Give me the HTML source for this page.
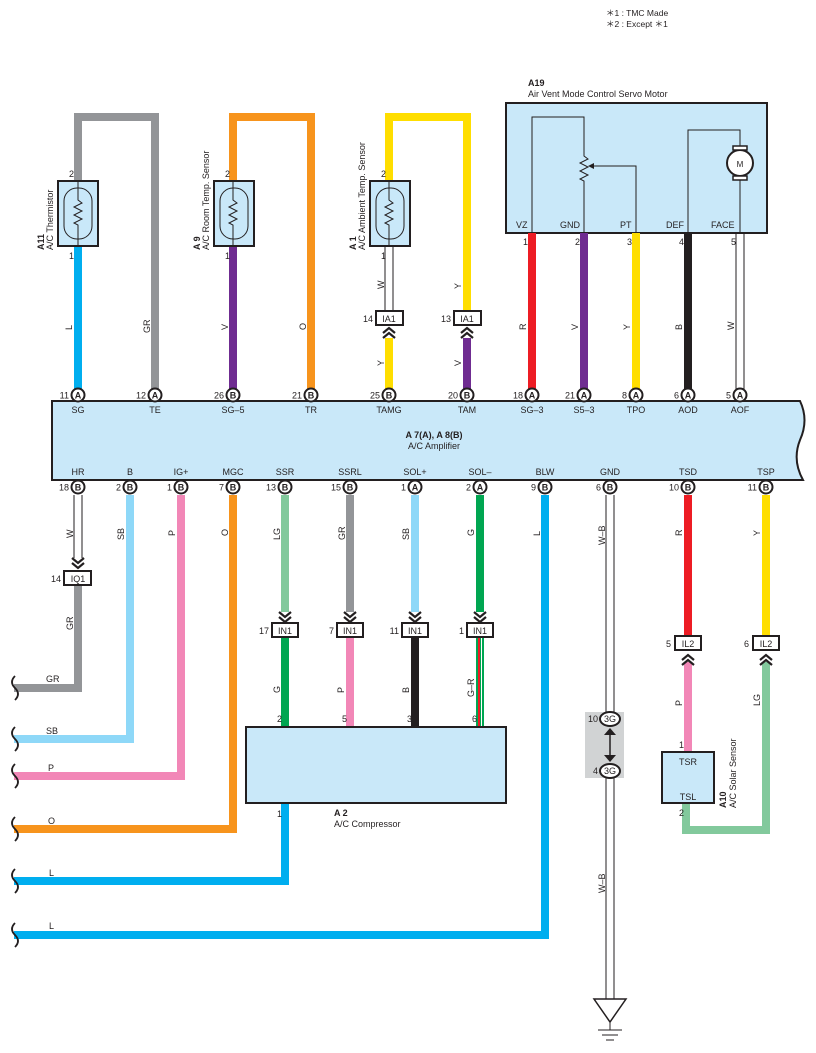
<!DOCTYPE html>
<html><head><meta charset="utf-8"><style>
body{margin:0;background:#fff}
svg{display:block}
text{font-family:"Liberation Sans",sans-serif;font-size:9px;fill:#231f20}
.w{fill:none;stroke-width:8;stroke-linejoin:miter}
.bx{fill:#c9e8f9;stroke:#231f20;stroke-width:2}
.pc{fill:#fff;stroke:#231f20;stroke-width:2}
.pl{font-size:9px;font-weight:bold;text-anchor:middle}
.t{stroke:#231f20;stroke-width:1;fill:none}
.ch{fill:none;stroke:#231f20;stroke-width:2.2}
.c{text-anchor:middle}
.r{text-anchor:end}
</style></head><body>
<svg width="816" height="1053" viewBox="0 0 816 1053" xmlns="http://www.w3.org/2000/svg">
<text x="606" y="16" style="font-size:8.5px">＊1 : TMC Made</text>
<text x="606" y="27" style="font-size:8.5px">＊2 : Except ＊1</text>

<!-- sensor loops -->
<path class="w" stroke="#939598" d="M78 181 V117 H155 V395"/>
<path class="w" stroke="#00aeef" d="M78 246 V395"/>
<path class="w" stroke="#f7941d" d="M233 181 V117 H311 V395"/>
<path class="w" stroke="#6f2c91" d="M233 246 V395"/>
<path class="w" stroke="#ffde00" d="M389 181 V117 H467 V311"/>
<path class="w" stroke="#ffde00" d="M389 338 V395"/>
<path class="w" stroke="#6f2c91" d="M467 338 V395"/>
<path class="t" d="M385 246 V311 M393 246 V311"/>

<!-- sensor boxes -->
<g>
<rect class="bx" x="58" y="181" width="40" height="65"/>
<rect x="64" y="188" width="28" height="51" rx="13" class="t"/>
<path class="t" d="M78 181 V200 l4 3 -8 4 8 4 -8 4 8 4 -8 4 4 2 V246"/>
<rect class="bx" x="214" y="181" width="40" height="65"/>
<rect x="220" y="188" width="28" height="51" rx="13" class="t"/>
<path class="t" d="M233 181 V200 l4 3 -8 4 8 4 -8 4 8 4 -8 4 4 2 V246"/>
<rect class="bx" x="370" y="181" width="40" height="65"/>
<rect x="376" y="188" width="28" height="51" rx="13" class="t"/>
<path class="t" d="M389 181 V200 l4 3 -8 4 8 4 -8 4 8 4 -8 4 4 2 V246"/>
</g>
<text x="74" y="177" class="r">2</text><text x="74" y="259" class="r">1</text>
<text x="230" y="177" class="r">2</text><text x="230" y="259" class="r">1</text>
<text x="386" y="177" class="r">2</text><text x="386" y="259" class="r">1</text>
<text transform="translate(44,250) rotate(-90)" style="font-weight:bold">A11</text>
<text transform="translate(53,250) rotate(-90)">A/C Thermistor</text>
<text transform="translate(200,250) rotate(-90)" style="font-weight:bold">A 9</text>
<text transform="translate(209,250) rotate(-90)">A/C Room Temp.  Sensor</text>
<text transform="translate(356,250) rotate(-90)" style="font-weight:bold">A 1</text>
<text transform="translate(365,250) rotate(-90)">A/C Ambient Temp.  Sensor</text>

<!-- IA1 -->
<rect x="376" y="311" width="27" height="14" fill="#fff" stroke="#231f20" stroke-width="2"/>
<text x="389" y="322" class="c">IA1</text><text x="373" y="322" class="r">14</text>
<rect x="454" y="311" width="27" height="14" fill="#fff" stroke="#231f20" stroke-width="2"/>
<text x="467" y="322" class="c">IA1</text><text x="451" y="322" class="r">13</text>
<path class="ch" d="M383 333 l6 -5 6 5 M383 338 l6 -5 6 5 M461 333 l6 -5 6 5 M461 338 l6 -5 6 5"/>

<!-- wire labels top -->
<g style="font-size:9px">
<text transform="translate(72,330) rotate(-90)">L</text>
<text transform="translate(150,333) rotate(-90)">GR</text>
<text transform="translate(228,330) rotate(-90)">V</text>
<text transform="translate(306,330) rotate(-90)">O</text>
<text transform="translate(384,289) rotate(-90)">W</text>
<text transform="translate(461,289) rotate(-90)">Y</text>
<text transform="translate(384,366) rotate(-90)">Y</text>
<text transform="translate(461,366) rotate(-90)">V</text>
<text transform="translate(526,330) rotate(-90)">R</text>
<text transform="translate(578,330) rotate(-90)">V</text>
<text transform="translate(630,330) rotate(-90)">Y</text>
<text transform="translate(682,330) rotate(-90)">B</text>
<text transform="translate(734,330) rotate(-90)">W</text>
</g>

<!-- A19 -->
<text x="528" y="86" style="font-weight:bold">A19</text>
<text x="528" y="97">Air Vent Mode Control Servo Motor</text>
<rect class="bx" x="506" y="103" width="261" height="130"/>
<path class="t" d="M532 233 V117 H584 V156 l4 3 -8 4 8 4 -8 4 8 4 -8 4 4 2 V233"/>
<path class="t" d="M636 233 V166 H590"/><path d="M588 166 l6 -3 v6z" fill="#231f20"/>
<path class="t" d="M688 233 V130 H740 V233"/>
<circle cx="740" cy="163" r="13" fill="#fff" stroke="#231f20" stroke-width="2"/>
<rect x="733" y="146" width="14" height="4" fill="#fff" stroke="#231f20" stroke-width="1.5"/>
<rect x="733" y="176" width="14" height="4" fill="#fff" stroke="#231f20" stroke-width="1.5"/>
<text x="740" y="167" class="c" style="font-size:8px">M</text>
<text x="516" y="228">VZ</text><text x="560" y="228">GND</text><text x="620" y="228">PT</text><text x="666" y="228">DEF</text><text x="711" y="228">FACE</text>
<path class="w" stroke="#ed1c24" d="M532 233 V395"/>
<path class="w" stroke="#6f2c91" d="M584 233 V395"/>
<path class="w" stroke="#ffde00" d="M636 233 V395"/>
<path class="w" stroke="#231f20" d="M688 233 V395"/>
<path class="t" d="M736 233 V395 M744 233 V395"/>
<text x="528" y="245" class="r">1</text><text x="580" y="245" class="r">2</text><text x="632" y="245" class="r">3</text><text x="684" y="245" class="r">4</text><text x="736" y="245" class="r">5</text>

<!-- bottom wires -->
<path class="t" d="M74 495 V558 M82 495 V558"/>
<path class="ch" d="M72 558 l6 5 6 -5 M72 563 l6 5 6 -5"/>
<path class="w" stroke="#939598" d="M78 585 V688 H14"/>
<path class="w" stroke="#8ed8f8" d="M130 495 V739 H14"/>
<path class="w" stroke="#f287b7" d="M181 495 V776 H14"/>
<path class="w" stroke="#f7941d" d="M233 495 V829 H14"/>
<path class="w" stroke="#82c99c" d="M285 495 V612"/>
<path class="w" stroke="#939598" d="M350 495 V612"/>
<path class="w" stroke="#8ed8f8" d="M415 495 V612"/>
<path class="w" stroke="#00a651" d="M480 495 V612"/>
<path class="w" stroke="#00a651" d="M285 637 V727"/>
<path class="w" stroke="#f287b7" d="M350 637 V727"/>
<path class="w" stroke="#231f20" d="M415 637 V727"/>
<path stroke="#00a651" stroke-width="8" d="M480 637 V727"/><path stroke="#ed1c24" stroke-width="2" d="M479 637 V727"/><path stroke="#fff" stroke-width="1" d="M481.5 637 V727"/>
<path class="w" stroke="#00aeef" d="M285 803 V881 H14"/>
<path class="w" stroke="#00aeef" d="M545 495 V935 H14"/>
<path class="ch" d="M279 612 l6 5 6 -5 M279 617 l6 5 6 -5 M344 612 l6 5 6 -5 M344 617 l6 5 6 -5 M409 612 l6 5 6 -5 M409 617 l6 5 6 -5 M474 612 l6 5 6 -5 M474 617 l6 5 6 -5"/>
<g>
<rect x="272" y="623" width="26" height="14" fill="#fff" stroke="#231f20" stroke-width="2"/><text x="285" y="634" class="c">IN1</text><text x="269" y="634" class="r">17</text>
<rect x="337" y="623" width="26" height="14" fill="#fff" stroke="#231f20" stroke-width="2"/><text x="350" y="634" class="c">IN1</text><text x="334" y="634" class="r">7</text>
<rect x="402" y="623" width="26" height="14" fill="#fff" stroke="#231f20" stroke-width="2"/><text x="415" y="634" class="c">IN1</text><text x="399" y="634" class="r">11</text>
<rect x="467" y="623" width="26" height="14" fill="#fff" stroke="#231f20" stroke-width="2"/><text x="480" y="634" class="c">IN1</text><text x="464" y="634" class="r">1</text>
<rect x="64" y="571" width="27" height="14" fill="#fff" stroke="#231f20" stroke-width="2"/><text x="78" y="582" class="c">IQ1</text><text x="61" y="582" class="r">14</text>
</g>
<!-- A2 -->
<rect class="bx" x="246" y="727" width="260" height="76"/>
<text x="282" y="722" class="r">2</text><text x="347" y="722" class="r">5</text><text x="412" y="722" class="r">3</text><text x="477" y="722" class="r">6</text>
<text x="282" y="817" class="r">1</text>
<text x="334" y="816" style="font-weight:bold">A 2</text><text x="334" y="827">A/C Compressor</text>

<!-- GND -->
<rect x="585" y="712" width="39" height="66" fill="#d1d3d4"/>
<path class="t" d="M606 495 V712 M614 495 V712 M606 778 V1000 M614 778 V1000"/>
<path stroke="#231f20" stroke-width="1.5" d="M610 730 V760"/>
<path d="M604 735 l6 -7 6 7z M604 755 l6 7 6 -7z" fill="#231f20"/>
<ellipse cx="610" cy="719" rx="10" ry="7" fill="#fff" stroke="#231f20" stroke-width="2"/><text x="610" y="722" class="c">3G</text><text x="598" y="722" class="r">10</text>
<ellipse cx="610" cy="771" rx="10" ry="7" fill="#fff" stroke="#231f20" stroke-width="2"/><text x="610" y="774" class="c">3G</text><text x="598" y="774" class="r">4</text>
<path d="M594 999 H626 L610 1022 Z" fill="#fff" stroke="#231f20" stroke-width="1.5"/>
<path stroke="#231f20" d="M610 1022 V1030 M598 1030 H622 M602 1035 H618 M606 1040 H614"/>
<text transform="translate(605,545) rotate(-90)">W–B</text>
<text transform="translate(605,893) rotate(-90)">W–B</text>

<!-- TSD / TSP -->
<path class="w" stroke="#ed1c24" d="M688 495 V636"/>
<path class="w" stroke="#ffde00" d="M766 495 V636"/>
<path class="w" stroke="#f287b7" d="M688 662 V752"/>
<path class="w" stroke="#82c99c" d="M686 803 V830 H766 V662"/>
<path class="ch" d="M682 660 l6 -5 6 5 M682 665 l6 -5 6 5 M760 660 l6 -5 6 5 M760 665 l6 -5 6 5"/>
<rect x="675" y="636" width="26" height="14" fill="#fff" stroke="#231f20" stroke-width="2"/><text x="688" y="647" class="c">IL2</text><text x="671" y="647" class="r">5</text>
<rect x="753" y="636" width="26" height="14" fill="#fff" stroke="#231f20" stroke-width="2"/><text x="766" y="647" class="c">IL2</text><text x="749" y="647" class="r">6</text>
<rect class="bx" x="662" y="752" width="52" height="51"/>
<text x="688" y="765" class="c">TSR</text><text x="688" y="800" class="c">TSL</text>
<text x="684" y="748" class="r">1</text><text x="684" y="816" class="r">2</text>
<text transform="translate(726,808) rotate(-90)" style="font-weight:bold">A10</text>
<text transform="translate(736,808) rotate(-90)">A/C Solar Sensor</text>

<!-- bottom wire labels -->
<text transform="translate(73,538) rotate(-90)">W</text>
<text transform="translate(124,540) rotate(-90)">SB</text>
<text transform="translate(175,536) rotate(-90)">P</text>
<text transform="translate(228,536) rotate(-90)">O</text>
<text transform="translate(280,540) rotate(-90)">LG</text>
<text transform="translate(345,540) rotate(-90)">GR</text>
<text transform="translate(409,540) rotate(-90)">SB</text>
<text transform="translate(474,536) rotate(-90)">G</text>
<text transform="translate(540,536) rotate(-90)">L</text>
<text transform="translate(73,630) rotate(-90)">GR</text>
<text transform="translate(280,693) rotate(-90)">G</text>
<text transform="translate(344,693) rotate(-90)">P</text>
<text transform="translate(409,693) rotate(-90)">B</text>
<text transform="translate(474,697) rotate(-90)">G–R</text>
<text transform="translate(682,536) rotate(-90)">R</text>
<text transform="translate(760,536) rotate(-90)">Y</text>
<text transform="translate(682,706) rotate(-90)">P</text>
<text transform="translate(760,706) rotate(-90)">LG</text>
<text x="46" y="682">GR</text><text x="46" y="734">SB</text><text x="48" y="771">P</text><text x="48" y="824">O</text><text x="49" y="876">L</text><text x="49" y="929">L</text>
<path d="M15 676 q-6 6 0 12 q6 6 0 12 M15 727 q-6 6 0 12 q6 6 0 12 M15 764 q-6 6 0 12 q6 6 0 12 M15 817 q-6 6 0 12 q6 6 0 12 M15 869 q-6 6 0 12 q6 6 0 12 M15 923 q-6 6 0 12 q6 6 0 12" fill="none" stroke="#231f20" stroke-width="1.8"/>

<!-- Amplifier -->
<path class="bx" d="M52 401 H800 Q809 420 800 440 Q792 460 803 480 H52 Z"/>
<text x="434" y="438" class="c" style="font-weight:bold">A 7(A), A 8(B)</text>
<text x="434" y="449" class="c">A/C Amplifier</text>
<g class="c">
<text x="78" y="413">SG</text><text x="155" y="413">TE</text><text x="233" y="413">SG–5</text><text x="311" y="413">TR</text><text x="389" y="413">TAMG</text><text x="467" y="413">TAM</text><text x="532" y="413">SG–3</text><text x="584" y="413">S5–3</text><text x="636" y="413">TPO</text><text x="688" y="413">AOD</text><text x="740" y="413">AOF</text>
<text x="78" y="475">HR</text><text x="130" y="475">B</text><text x="181" y="475">IG+</text><text x="233" y="475">MGC</text><text x="285" y="475">SSR</text><text x="350" y="475">SSRL</text><text x="415" y="475">SOL+</text><text x="480" y="475">SOL–</text><text x="545" y="475">BLW</text><text x="610" y="475">GND</text><text x="688" y="475">TSD</text><text x="766" y="475">TSP</text>
</g>
<!-- top pins -->
<g>
<circle class="pc" cx="78" cy="395" r="6.5"/><text class="pl" x="78" y="398.5">A</text><text x="69" y="398.5" class="r">11</text>
<circle class="pc" cx="155" cy="395" r="6.5"/><text class="pl" x="155" y="398.5">A</text><text x="146" y="398.5" class="r">12</text>
<circle class="pc" cx="233" cy="395" r="6.5"/><text class="pl" x="233" y="398.5">B</text><text x="224" y="398.5" class="r">26</text>
<circle class="pc" cx="311" cy="395" r="6.5"/><text class="pl" x="311" y="398.5">B</text><text x="302" y="398.5" class="r">21</text>
<circle class="pc" cx="389" cy="395" r="6.5"/><text class="pl" x="389" y="398.5">B</text><text x="380" y="398.5" class="r">25</text>
<circle class="pc" cx="467" cy="395" r="6.5"/><text class="pl" x="467" y="398.5">B</text><text x="458" y="398.5" class="r">20</text>
<circle class="pc" cx="532" cy="395" r="6.5"/><text class="pl" x="532" y="398.5">A</text><text x="523" y="398.5" class="r">18</text>
<circle class="pc" cx="584" cy="395" r="6.5"/><text class="pl" x="584" y="398.5">A</text><text x="575" y="398.5" class="r">21</text>
<circle class="pc" cx="636" cy="395" r="6.5"/><text class="pl" x="636" y="398.5">A</text><text x="627" y="398.5" class="r">8</text>
<circle class="pc" cx="688" cy="395" r="6.5"/><text class="pl" x="688" y="398.5">A</text><text x="679" y="398.5" class="r">6</text>
<circle class="pc" cx="740" cy="395" r="6.5"/><text class="pl" x="740" y="398.5">A</text><text x="731" y="398.5" class="r">5</text>
</g>
<!-- bottom pins -->
<g>
<circle class="pc" cx="78" cy="487" r="6.5"/><text class="pl" x="78" y="490.5">B</text><text x="69" y="490.5" class="r">18</text>
<circle class="pc" cx="130" cy="487" r="6.5"/><text class="pl" x="130" y="490.5">B</text><text x="121" y="490.5" class="r">2</text>
<circle class="pc" cx="181" cy="487" r="6.5"/><text class="pl" x="181" y="490.5">B</text><text x="172" y="490.5" class="r">1</text>
<circle class="pc" cx="233" cy="487" r="6.5"/><text class="pl" x="233" y="490.5">B</text><text x="224" y="490.5" class="r">7</text>
<circle class="pc" cx="285" cy="487" r="6.5"/><text class="pl" x="285" y="490.5">B</text><text x="276" y="490.5" class="r">13</text>
<circle class="pc" cx="350" cy="487" r="6.5"/><text class="pl" x="350" y="490.5">B</text><text x="341" y="490.5" class="r">15</text>
<circle class="pc" cx="415" cy="487" r="6.5"/><text class="pl" x="415" y="490.5">A</text><text x="406" y="490.5" class="r">1</text>
<circle class="pc" cx="480" cy="487" r="6.5"/><text class="pl" x="480" y="490.5">A</text><text x="471" y="490.5" class="r">2</text>
<circle class="pc" cx="545" cy="487" r="6.5"/><text class="pl" x="545" y="490.5">B</text><text x="536" y="490.5" class="r">9</text>
<circle class="pc" cx="610" cy="487" r="6.5"/><text class="pl" x="610" y="490.5">B</text><text x="601" y="490.5" class="r">6</text>
<circle class="pc" cx="688" cy="487" r="6.5"/><text class="pl" x="688" y="490.5">B</text><text x="679" y="490.5" class="r">10</text>
<circle class="pc" cx="766" cy="487" r="6.5"/><text class="pl" x="766" y="490.5">B</text><text x="757" y="490.5" class="r">11</text>
</g>
</svg>
</body></html>
